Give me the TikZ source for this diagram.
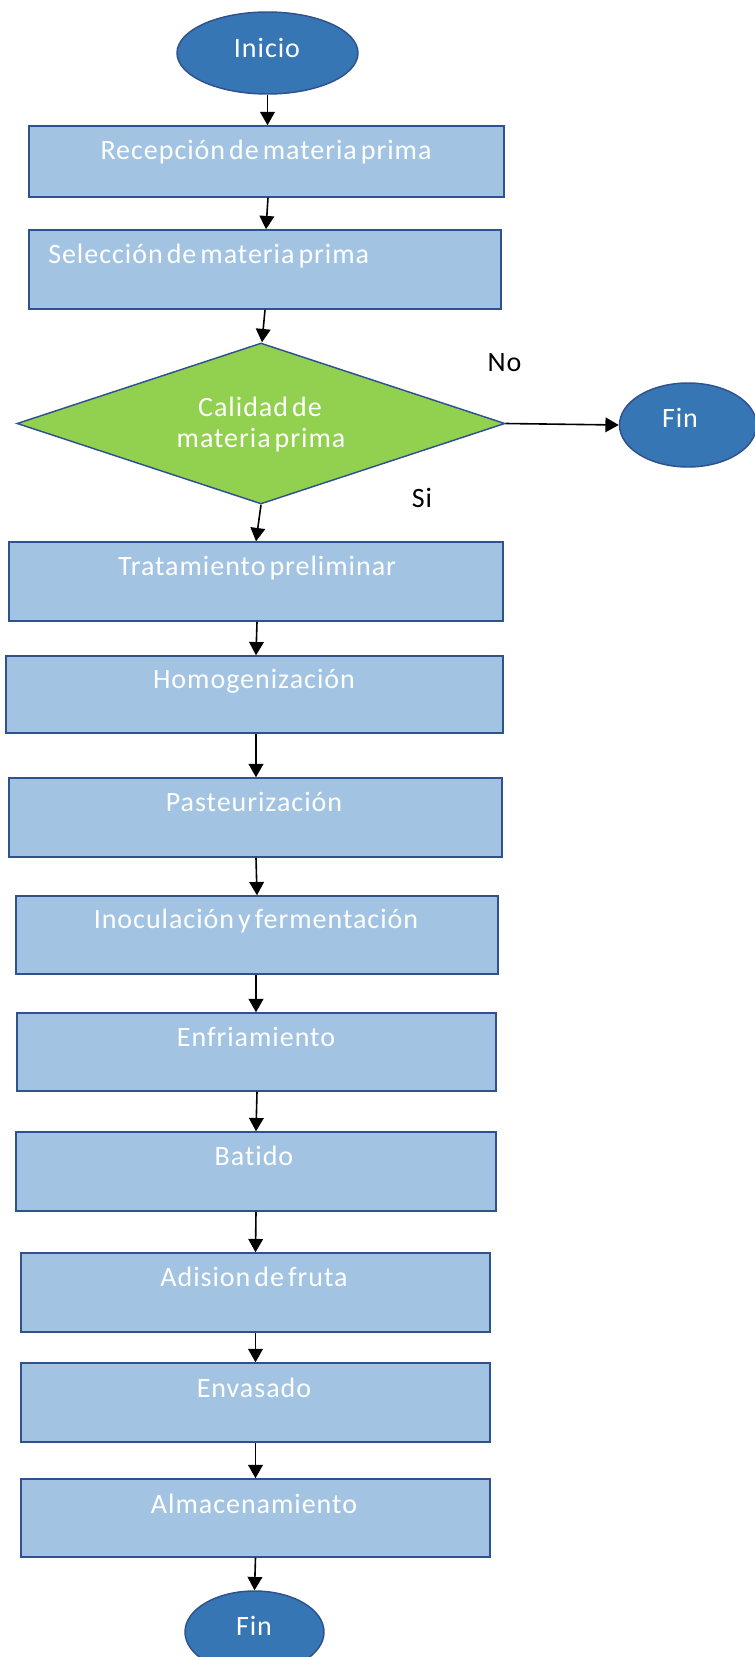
\documentclass[tikz,border=0pt]{standalone}
\usepackage{fontspec}
\setmainfont[LetterSpace=3.5,WordSpace=0.55,Ligatures=NoCommon]{Carlito}
\usetikzlibrary{shapes.geometric,arrows.meta,calc}
\definecolor{ovalfill}{RGB}{55,118,180}
\definecolor{edgeblue}{RGB}{47,82,143}
\definecolor{boxfill}{RGB}{162,196,226}
\definecolor{greenfill}{RGB}{146,208,80}
\tikzset{
 wh/.style 2 args={minimum width=#1*0.75pt, minimum height=#2*0.75pt},
 procbox/.style={draw=edgeblue, fill=boxfill, line width=1.1pt, rectangle, inner sep=0pt},
 oval/.style={draw=edgeblue, fill=ovalfill, line width=1.1pt, ellipse, inner sep=0pt},
 decision/.style={draw=edgeblue, fill=greenfill, line width=1.1pt, diamond, inner sep=0pt},
 wtext/.style={text=white, font=\fontsize{21}{23}\selectfont, anchor=base, inner sep=0pt},
 btext/.style={text=black, font=\fontsize{21}{23}\selectfont, anchor=base, inner sep=0pt},
 arr/.style={-{Triangle[length=10pt,width=11pt]}, line width=1.2pt, black},
}
\begin{document}
\begin{tikzpicture}[x=0.75pt,y=-0.75pt]
\useasboundingbox (0,0) rectangle (755,1657);
\clip (0,0) rectangle (755,1657);

% shapes
\node[oval, wh={181}{82}] (inicio) at (267.5,53) {};
\node[procbox, wh={475}{71}] (b1) at (266.5,161.5) {};
\node[procbox, wh={472}{79}] (b2) at (265,269.5) {};
\node[decision, wh={488}{161}] (d) at (261,423.5) {};
\node[oval, wh={137}{84}] (fin1) at (688,425) {};
\node[procbox, wh={494}{79}] (b3) at (256,581.5) {};
\node[procbox, wh={497}{77}] (b4) at (254.5,694.5) {};
\node[procbox, wh={493}{79}] (b5) at (255.5,817.5) {};
\node[procbox, wh={482}{78}] (b6) at (257,935) {};
\node[procbox, wh={479}{78}] (b7) at (256.5,1052) {};
\node[procbox, wh={480}{79}] (b8) at (256,1171.5) {};
\node[procbox, wh={469}{79}] (b9) at (255.5,1292.5) {};
\node[procbox, wh={469}{79}] (b10) at (255.5,1402.5) {};
\node[procbox, wh={469}{78}] (b11) at (255.5,1518) {};
\node[oval, wh={139}{82}] (fin2) at (254.5,1632) {};

% texts
\node[wtext] (tinicio) at (267,57) {Inicio};
\node[wtext] (t1) at (266,159) {Recepción de materia prima};
\node[wtext, anchor=base west] (t2) at (48,263) {Selección de materia prima};
\node[wtext] (td1) at (260,416) {Calidad de};
\node[wtext] (td2) at (261,447) {materia prima};
\node[wtext] (tfin1) at (680,427) {Fin};
\node[btext] (no) at (504.5,371) {No};
\node[btext] (si) at (422,507) {Si};
\node[wtext] (t3) at (257,575) {Tratamiento preliminar};
\node[wtext] (t4) at (254,688) {Homogenización};
\node[wtext] (t5) at (254,811) {Pasteurización};
\node[wtext] (t6) at (256,928) {Inoculación y fermentación};
\node[wtext] (t7) at (256,1046) {Enfriamiento};
\node[wtext] (t8) at (254,1165) {Batido};
\node[wtext] (t9) at (254,1286) {Adision de fruta};
\node[wtext] (t10) at (254,1397) {Envasado};
\node[wtext] (t11) at (254,1513) {Almacenamiento};
\node[wtext] (tfin2) at (254,1635) {Fin};

% connectors
\draw[arr] (inicio.south) -- (inicio.south |- b1.north);
\draw[arr] ($(b1.south)+(1.5,0)$) -- ($(b2.north)+(1,0)$);
\draw[arr] (b2.south) -- ($(d.north)+(1,0)$);
\draw[arr] (d.south) -- (b3.north);
\draw[arr] ($(b3.south)+(1,0)$) -- ($(b4.north)+(1.5,0)$);
\draw[arr] ($(b4.south)+(1.5,0)$) -- ($(b5.north)+(0.5,0)$);
\draw[arr] ($(b5.south)+(0.5,0)$) -- (b6.north);
\draw[arr] ($(b6.south)+(-1,0)$) -- ($(b7.north)+(-0.5,0)$);
\draw[arr] ($(b7.south)+(0.5,0)$) -- (b8.north);
\draw[arr] (b8.south) -- (b9.north);
\draw[arr] (b9.south) -- (b10.north);
\draw[arr] (b10.south) -- (b11.north);
\draw[arr] (b11.south) -- (fin2.north);
\draw[arr] (d.east) -- (fin1.west);
\end{tikzpicture}
\end{document}
